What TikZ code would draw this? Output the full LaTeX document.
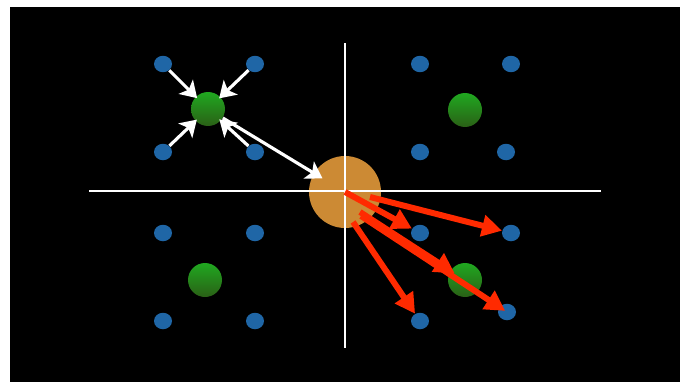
\documentclass[tikz,border=0pt]{standalone}
\usetikzlibrary{arrows.meta, shapes.geometric}
\definecolor{dotblue}{RGB}{31,102,166}
\definecolor{seedtop}{RGB}{32,168,32}
\definecolor{seedbot}{RGB}{42,96,22}
\definecolor{probeorange}{RGB}{204,138,52}
\definecolor{pushred}{RGB}{255,42,0}
\tikzset{
    % small lattice points
    site/.style={ellipse, fill=dotblue, inner sep=0pt, minimum width=0.36cm, minimum height=0.33cm},
    % cluster centres, shaded green balls
    seed/.style={circle, inner sep=0pt, minimum size=0.68cm, top color=seedtop, bottom color=seedbot},
    % the query point
    probe/.style={circle, fill=probeorange, inner sep=0pt, minimum size=1.44cm},
    % white edges (site -> centre)
    pull/.style={-{Stealth[length=0.32cm, width=0.4cm, inset=0.08cm]}, white, line width=1.8pt},
    % red edges (query -> neighbours)
    push/.style={-{Triangle[length=0.4cm, width=0.42cm]}, pushred, line width=3.4pt},
    % thin white axes
    axisline/.style={white, line width=0.6pt},
}

\begin{document}
\begin{tikzpicture}[x=0.02cm, y=-0.02cm]
    \useasboundingbox (0,0) rectangle (685,382);
    \fill[black] (10,7) rectangle (680,382);

    % ---- query point and axes ----
    \node[probe] (q) at (345,192) {};
    \coordinate (xl) at (89,191);
    \coordinate (xr) at (601,191);
    \coordinate (yt) at (345,43);
    \coordinate (yb) at (345,348);
    \draw[axisline] (xl) -- (xr);
    \draw[axisline] (yt) -- (yb);

    % ---- lattice sites, four groups ----
    \foreach \n/\x/\y in {a1/163/64, a2/255/64, a3/163/152, a4/255/152,
                          b1/420/64, b2/511/64, b3/420/152, b4/506/152,
                          c1/163/233, c2/255/233, c3/163/321, c4/255/321,
                          d1/420/233, d2/511/233, d3/420/321, d4/507/312}
        \node[site] (\n) at (\x,\y) {};

    % ---- centres ----
    \node[seed] (ga) at (208,109) {};
    \node[seed] (gb) at (465,110) {};
    \node[seed] (gc) at (205,280) {};
    \node[seed] (gd) at (465,280) {};

    % white: sites pulled into the top-left centre, then on to the query
    \foreach \s in {a1,a2,a3,a4}{ \draw[pull, shorten >=-0.04cm] (\s) -- (ga); }
    \draw[pull, shorten >=-0.2cm] (ga) -- (q);

    % red: query pushed out to its neighbours
    \coordinate (r2) at (370,197);
    \coordinate (r3) at (353,222);
    \coordinate (r4) at (360,212);
    \coordinate (r5) at (361,216);
    \draw[push] (q.center) -- (d1);
    \draw[push] (r2) -- (d2);
    \draw[push] (r3) -- (d3);
    \draw[push, shorten >=-0.1cm] (r4) -- (gd);
    \draw[push, shorten >=-0.14cm] (r5) -- (d4);

\end{tikzpicture}
\end{document}
